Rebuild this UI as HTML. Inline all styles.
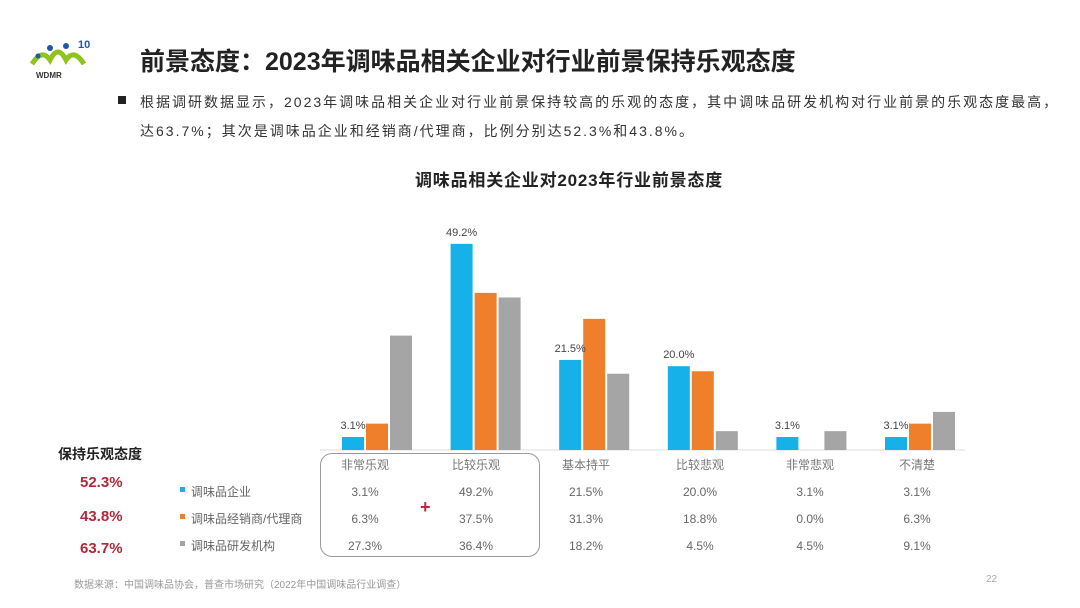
<!DOCTYPE html>
<html><head><meta charset="utf-8"><style>
body{margin:0;width:1080px;height:608px;background:#fff;font-family:"Liberation Sans","Noto Sans CJK SC",sans-serif;position:relative;overflow:hidden}
.a{position:absolute;white-space:nowrap}
</style></head><body>
<div class="a" style="left:28px;top:34px;width:70px;height:46px">
<svg width="70" height="46"><path d="M4 30 Q14 14 22 26 Q30 10 38 26 Q46 14 56 30" stroke="#8fc31f" stroke-width="5" fill="none"/><circle cx="22" cy="14" r="3" fill="#1a5aa8"/><circle cx="38" cy="12" r="3" fill="#1a5aa8"/><circle cx="10" cy="22" r="2.5" fill="#1a5aa8"/><text x="50" y="14" font-size="11" font-weight="bold" fill="#1a5aa8">10</text><text x="8" y="44" font-size="8" font-weight="bold" fill="#333">WDMR</text></svg></div>
<div class="a" style="left:140px;top:42px;font-size:25px;font-weight:bold;color:#222">前景态度：2023年调味品相关企业对行业前景保持乐观态度</div>
<div class="a" style="left:118px;top:96px;width:8px;height:8px;background:#222"></div>
<div class="a" style="left:140px;top:88px;font-size:14px;letter-spacing:2px;color:#333;line-height:29px">根据调研数据显示，2023年调味品相关企业对行业前景保持较高的乐观的态度，其中调味品研发机构对行业前景的乐观态度最高，<br>达63.7%；其次是调味品企业和经销商/代理商，比例分别达52.3%和43.8%。</div>
<div class="a" style="left:415px;top:166px;font-size:17px;letter-spacing:0.8px;font-weight:bold;color:#222">调味品相关企业对2023年行业前景态度</div>
<svg class="a" style="left:0;top:0" width="1080" height="608" id="ch"></svg>
<div class="a" style="left:58px;top:444px;font-size:14px;font-weight:bold;color:#222">保持乐观态度</div>
<div class="a" style="left:80px;top:474px;font-size:15px;font-weight:bold;color:#b0283a">52.3%</div>
<div class="a" style="left:80px;top:508px;font-size:15px;font-weight:bold;color:#b0283a">43.8%</div>
<div class="a" style="left:80px;top:540px;font-size:15px;font-weight:bold;color:#b0283a">63.7%</div>
<div class="a" style="left:320px;top:453px;width:218px;height:102px;border:1.5px solid #999;border-radius:12px"></div>
<div class="a" style="left:420px;top:497px;font-size:18px;font-weight:bold;color:#c0283a">+</div>
<div class="a" style="left:74px;top:576px;font-size:10px;color:#999">数据来源：中国调味品协会，普查市场研究（2022年中国调味品行业调查）</div>
<div class="a" style="left:986px;top:574px;font-size:10px;color:#aaa">22</div>
<script>
const categories=["非常乐观","比较乐观","基本持平","比较悲观","非常悲观","不清楚"];
const seriesNames=["调味品企业","调味品经销商/代理商","调味品研发机构"];
const enterprise=[3.1,49.2,21.5,20.0,3.1,3.1];
const dealer=[6.3,37.5,31.3,18.8,0.0,6.3];
const research=[27.3,36.4,18.2,4.5,4.5,9.1];
const series=[enterprise,dealer,research];
const colors=["#17b1ea","#f07f2b","#a5a5a5"];
const svg=document.getElementById('ch');const NS="http://www.w3.org/2000/svg";
const base=450,k=4.19,x0=377,step=108.6,bw=22;
const y=v=>base-v*k;const xc=i=>x0+i*step;
function mk(t,a){const e=document.createElementNS(NS,t);for(const n in a)e.setAttribute(n,a[n]);svg.appendChild(e);return e;}
const ax=mk('line',{x1:320,x2:965,y1:base,y2:base,stroke:'#ddd'});


series.forEach((s,j)=>s.forEach((v,i)=>{
 const r=mk('rect',{x:xc(i)+(j-1)*24-bw/2,y:y(v),width:bw,height:v*k,fill:colors[j]});
 
 
}));
enterprise.forEach((v,i)=>{
 const t=mk('text',{x:xc(i)-24,y:y(v)-8,'text-anchor':'middle','font-size':11,fill:'#444'});t.textContent=v.toFixed(1)+'%';
 
 
});
const colX=[365,476,586,700,810,917];
categories.forEach((c,i)=>{
 const t=mk('text',{x:colX[i],y:469,'text-anchor':'middle','font-size':12,fill:'#777'});t.textContent=c;
 
 
 series.forEach((s,j)=>{
  const d=mk('text',{x:colX[i],y:496+j*27,'text-anchor':'middle','font-size':12,fill:'#666'});d.textContent=s[i].toFixed(1)+'%';
  
  
 });
});
seriesNames.forEach((n,j)=>{
 const r=mk('rect',{x:180,y:487+j*27,width:5,height:5,fill:colors[j]});
 
 
 const t=mk('text',{x:191,y:496+j*27,'font-size':12,fill:'#666'});t.textContent=n;
 
 
});
</script>
</body></html>
